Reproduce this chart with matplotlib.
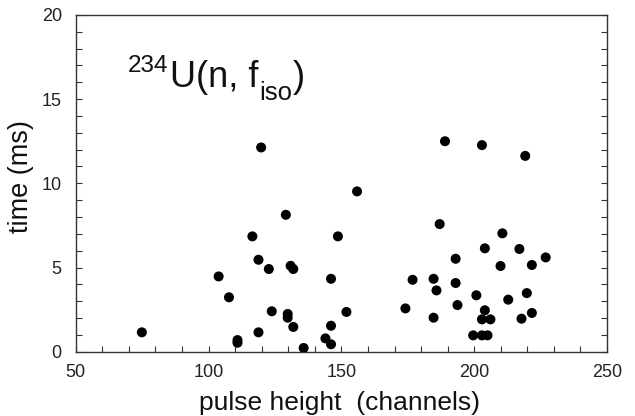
import matplotlib
matplotlib.use("Agg")
import matplotlib.pyplot as plt
from matplotlib.ticker import MultipleLocator

plt.rcParams['font.family'] = ['Liberation Sans', 'DejaVu Sans']

pulse_height = [74.9, 103.8, 107.7, 110.9, 110.9, 118.8, 116.5, 118.8, 119.8, 122.7,
                123.8, 129.1, 129.8, 129.8, 130.9, 131.9, 131.9, 135.8, 144.0, 146.1,
                146.1, 146.1, 148.7, 151.9, 155.9,
                174.1, 176.8, 184.7, 184.7, 185.8, 187.0, 189.0, 193.0, 193.0, 193.7,
                199.6, 200.8, 202.9, 202.9, 202.9, 204.0, 204.0, 205.0, 206.1, 209.9,
                210.6, 212.8, 217.0, 217.8, 219.2, 219.8, 221.7, 221.7, 226.9]
time_ms = [1.15, 4.47, 3.23, 0.69, 0.53, 1.15, 6.85, 5.46, 12.13, 4.91,
           2.40, 8.13, 2.24, 2.02, 5.10, 4.91, 1.47, 0.22, 0.79, 0.44,
           1.54, 4.33, 6.85, 2.36, 9.52,
           2.57, 4.27, 4.33, 2.02, 3.64, 7.58, 12.50, 5.52, 4.08, 2.77,
           0.97, 3.35, 1.92, 0.97, 12.27, 2.46, 6.14, 0.97, 1.92, 5.09,
           7.03, 3.09, 6.10, 1.96, 11.63, 3.48, 5.15, 2.30, 5.60]

x_ticks = [50, 100, 150, 200, 250]
y_ticks = [0, 5, 10, 15, 20]

# title pieces: (text, fontsize, baseline y in pixels from top)
title_pieces = [("234", 17.5, 72), ("U(n, f", 26, 87), ("iso", 18.5, 100), (")", 26, 87)]

W, H = 635, 416
fig = plt.figure(figsize=(W / 100, H / 100), dpi=100)
ax = fig.add_axes([0.1192, 0.1546, 0.8368, 0.8094])

ax.scatter(pulse_height, time_ms, s=52, c='black', edgecolors='none', zorder=3)

ax.set_xlim(50, 250)
ax.set_ylim(0, 20)
ax.set_xticks(x_ticks)
ax.set_yticks(y_ticks)
ax.xaxis.set_minor_locator(MultipleLocator(10))
ax.yaxis.set_minor_locator(MultipleLocator(1))
ax.tick_params(which='both', direction='in', length=4, width=0.8, color='#333333',
               top=False, right=True, labelsize=13, labelcolor='#222222')
ax.tick_params(axis='x', which='both', pad=9)
ax.tick_params(axis='y', which='both', pad=10)

for s in ax.spines.values():
    s.set_color('#333333')
    s.set_linewidth(1.0)

ax.set_xlabel('pulse height  (channels)', fontsize=19, color='#111111')
ax.xaxis.set_label_coords(0.4956, -0.118)
ax.set_ylabel('time (ms)', fontsize=19.5, color='#111111')
ax.yaxis.set_label_coords(-0.079, 0.52)

renderer = fig.canvas.get_renderer()
x_px = 128
for txt, fs, base in title_pieces:
    t = fig.text(x_px / W, 1 - base / H, txt, fontsize=fs, va='baseline', ha='left',
                 color='#111111')
    bb = t.get_window_extent(renderer=renderer)
    x_px = bb.x1 + 1

fig.savefig('out.png', dpi=100)
